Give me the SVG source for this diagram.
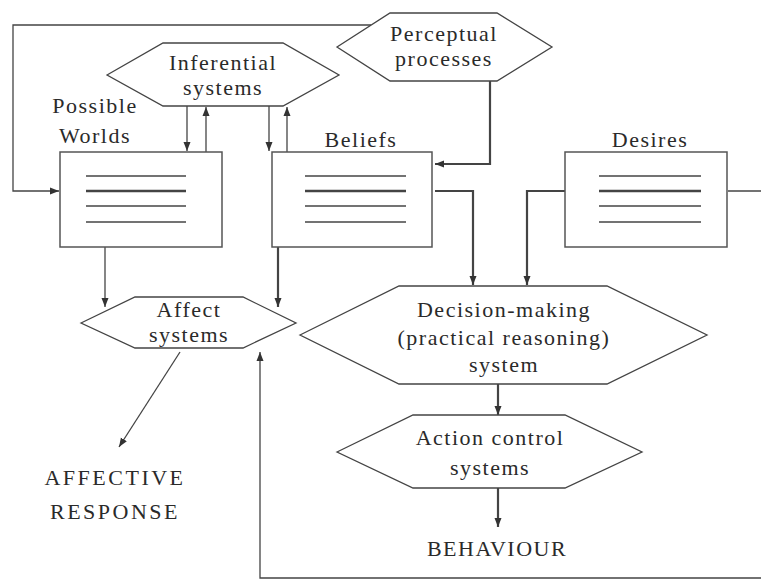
<svg xmlns="http://www.w3.org/2000/svg" width="761" height="580" viewBox="0 0 761 580">
<style>
text{font-family:"Liberation Serif","Times New Roman",serif;font-size:22px;letter-spacing:1.5px;fill:#2a2a2a;text-anchor:middle}
.caps{letter-spacing:2.5px}
.hex{fill:#fff;stroke:#444;stroke-width:1.3}
.box{fill:#fff;stroke:#555;stroke-width:1.5}
.ln{stroke:#444;stroke-width:1.3}
.ln2{stroke:#444;stroke-width:2.4}
.c{fill:none;stroke:#444;stroke-width:1.3}
.c2{fill:none;stroke:#444;stroke-width:2.2}
</style>
<defs>
<marker id="ah" markerUnits="userSpaceOnUse" markerWidth="10" markerHeight="8" refX="9" refY="4" orient="auto">
<path d="M0,0.5 L9,4 L0,7.5 z" fill="#333"/>
</marker>
</defs>
<g id="connectors">
<polyline class="c" points="371,25 13,25 13,191 59,191" marker-end="url(#ah)"/>
<polyline class="c2" points="490,81 490,164 435,164" marker-end="url(#ah)"/>
<line class="c" x1="187" y1="106" x2="187" y2="151" marker-end="url(#ah)"/>
<line class="c" x1="206" y1="152" x2="206" y2="107" marker-end="url(#ah)"/>
<line class="c" x1="269" y1="106" x2="269" y2="151" marker-end="url(#ah)"/>
<line class="c" x1="287" y1="152" x2="287" y2="107" marker-end="url(#ah)"/>
<line class="c" x1="105" y1="247" x2="105" y2="307" marker-end="url(#ah)"/>
<line class="c2" x1="278" y1="247" x2="278" y2="307" marker-end="url(#ah)"/>
<polyline class="c2" points="435,191 473,191 473,285" marker-end="url(#ah)"/>
<polyline class="c2" points="565,191 527,191 527,285" marker-end="url(#ah)"/>
<line class="c" x1="728" y1="191" x2="761" y2="191"/>
<polyline class="c" points="761,578 260,578 260,352" marker-end="url(#ah)"/>
<line class="c" x1="180" y1="352" x2="119" y2="447" marker-end="url(#ah)"/>
<line class="c2" x1="498" y1="384" x2="498" y2="415" marker-end="url(#ah)"/>
<line class="c2" x1="498" y1="488" x2="498" y2="527" marker-end="url(#ah)"/>
</g>
<g id="perceptual">
<polygon class="hex" points="337,47 390,13 497,13 552,47 497,81 390,81"/>
<text x="444" y="41">Perceptual</text>
<text x="444" y="66">processes</text>
</g>
<g id="inferential">
<polygon class="hex" points="107,75 163,43 283,43 339,75 283,106 163,106"/>
<text x="223" y="70">Inferential</text>
<text x="223" y="95">systems</text>
</g>
<g id="possible-worlds">
<text x="95" y="113">Possible</text>
<text x="95" y="143">Worlds</text>
<rect class="box" x="60" y="152" width="162" height="95"/>
<line class="ln" x1="86" y1="176" x2="186" y2="176"/>
<line class="ln2" x1="86" y1="191" x2="186" y2="191"/>
<line class="ln" x1="86" y1="206" x2="186" y2="206"/>
<line class="ln" x1="86" y1="222" x2="186" y2="222"/>
</g>
<g id="beliefs">
<text x="361" y="147">Beliefs</text>
<rect class="box" x="272" y="152" width="160" height="95"/>
<line class="ln" x1="305" y1="176" x2="406" y2="176"/>
<line class="ln2" x1="305" y1="191" x2="406" y2="191"/>
<line class="ln" x1="305" y1="206" x2="406" y2="206"/>
<line class="ln" x1="305" y1="222" x2="406" y2="222"/>
</g>
<g id="desires">
<text x="650" y="147">Desires</text>
<rect class="box" x="565" y="152" width="162" height="95"/>
<line class="ln" x1="599" y1="176" x2="701" y2="176"/>
<line class="ln2" x1="599" y1="191" x2="701" y2="191"/>
<line class="ln" x1="599" y1="206" x2="701" y2="206"/>
<line class="ln" x1="599" y1="222" x2="701" y2="222"/>
</g>
<g id="affect">
<polygon class="hex" points="81,323 135,297 243,297 296,323 243,348 135,348"/>
<text x="189" y="317">Affect</text>
<text x="189" y="342">systems</text>
</g>
<g id="affective-response">
<text class="caps" x="115" y="485">AFFECTIVE</text>
<text class="caps" x="115" y="519">RESPONSE</text>
</g>
<g id="decision">
<polygon class="hex" points="300,335 399,286 607,286 707,335 607,384 399,384"/>
<text x="504" y="317">Decision-making</text>
<text x="504" y="345">(practical reasoning)</text>
<text x="504" y="372">system</text>
</g>
<g id="action">
<polygon class="hex" points="337,452 413,415 565,415 642,452 565,488 413,488"/>
<text x="490" y="445">Action control</text>
<text x="490" y="475">systems</text>
</g>
<g id="behaviour">
<text x="497" y="556">BEHAVIOUR</text>
</g>
</svg>
